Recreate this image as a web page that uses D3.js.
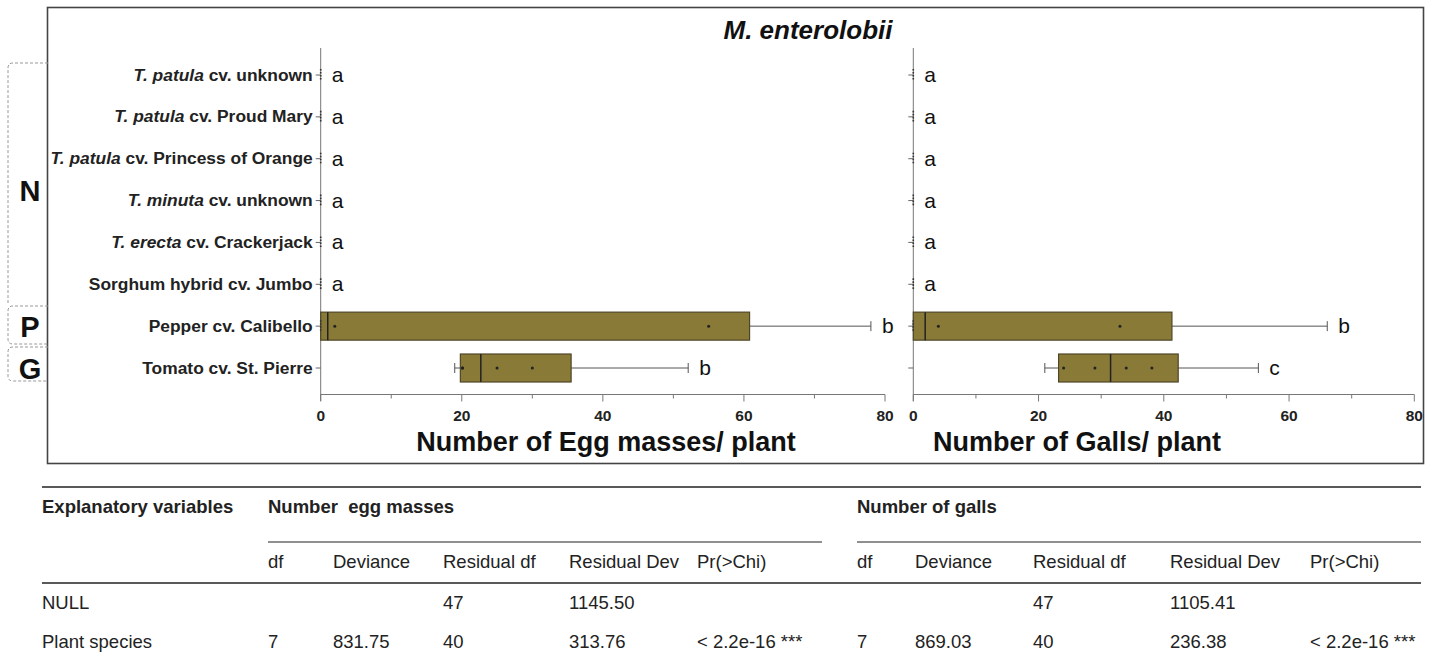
<!DOCTYPE html>
<html><head><meta charset="utf-8">
<script src="https://cdn.jsdelivr.net/npm/d3@7"></script>
<style>
body{margin:0;background:#fff;}
svg{display:block;font-family:"Liberation Sans",Arial,sans-serif;}
</style></head>
<body>
<svg id="c" width="1438" height="660"></svg>
<script>
// ---------- data ----------
const title = "M. enterolobii";
const categories = [
  "T. patula cv. unknown",
  "T. patula cv. Proud Mary",
  "T. patula cv. Princess of Orange",
  "T. minuta cv. unknown",
  "T. erecta cv. Crackerjack",
  "Sorghum hybrid cv. Jumbo",
  "Pepper cv. Calibello",
  "Tomato cv. St. Pierre"
];
const groups = ["N","N","N","N","N","N","P","G"];
// box stats: [min, q1, median, q3, max]
const eggStats = [
  [0,0,0,0,0],[0,0,0,0,0],[0,0,0,0,0],[0,0,0,0,0],[0,0,0,0,0],[0,0,0,0,0],
  [0,0,1.0,60.8,78.0],
  [19.0,19.8,22.7,35.5,52.1]
];
const eggPoints = [[0],[0],[0],[0],[0],[0],[0,2.0,55.0],[20.1,20.1,25.0,30.0]];
const eggLetters = ["a","a","a","a","a","a","b","b"];
const gallStats = [
  [0,0,0,0,0],[0,0,0,0,0],[0,0,0,0,0],[0,0,0,0,0],[0,0,0,0,0],[0,0,0,0,0],
  [0,0,1.9,41.3,66.1],
  [21.0,23.2,31.5,42.3,55.1]
];
const gallPoints = [[0],[0],[0],[0],[0],[0],[0,4.0,33.0],[24.0,29.0,34.0,38.1]];
const gallLetters = ["a","a","a","a","a","a","b","c"];
const xTicks = [0,10,20,30,40,50,60,70,80];
const xLabelTicks = [0,20,40,60,80];
const eggTitle = "Number of Egg masses/ plant";
const gallTitle = "Number of Galls/ plant";

// table
const tableVars = ["Explanatory variables"];
const tableGroupHeads = ["Number  egg masses","Number of galls"];
const tableColHeads = ["df","Deviance","Residual df","Residual Dev","Pr(>Chi)"];
const rowNames = ["NULL","Plant species"];
const eggAnova = [["","","47","1145.50",""],["7","831.75","40","313.76","< 2.2e-16 ***"]];
const gallAnova = [["","","47","1105.41",""],["7","869.03","40","236.38","< 2.2e-16 ***"]];

// ---------- drawing ----------
const svg = d3.select("#c");
const boxFill = "#8a7a38", boxStroke = "#4f4628";

svg.append("rect").attr("x",47.5).attr("y",7.5).attr("width",1376).attr("height",456)
  .attr("fill","none").attr("stroke","#444").attr("stroke-width",1.6);

svg.append("text").attr("x",808).attr("y",39).attr("text-anchor","middle")
  .attr("font-size",26).attr("font-weight","bold").attr("font-style","italic")
  .attr("fill","#111").text(title);

const y = d3.scalePoint().domain(categories).range([75,368]);
const xL = d3.scaleLinear().domain([0,80]).range([320.7,885]);
const xR = d3.scaleLinear().domain([0,80]).range([913.3,1414.3]);
const axisY = 394.5, yTop = 48;
const boxH = 28;

function zeroMark(g, x0, cy){
  g.append("line").attr("x1",x0).attr("x2",x0).attr("y1",cy-6).attr("y2",cy+6)
    .attr("stroke","#333").attr("stroke-width",1.6).attr("stroke-dasharray","1.6,1.4");
}

function panel(x, stats, points, letters, axTitle, titleX, showLabels){
  const g = svg.append("g");
  g.append("line").attr("x1",x(0)).attr("x2",x(0)).attr("y1",yTop).attr("y2",axisY+6.5)
    .attr("stroke","#777").attr("stroke-width",1);
  g.selectAll(".yt").data(categories).enter().append("line")
    .attr("x1",x(0)-5).attr("x2",x(0)).attr("y1",d=>y(d)).attr("y2",d=>y(d))
    .attr("stroke","#666");
  g.append("line").attr("x1",x(0)).attr("x2",x(80)).attr("y1",axisY).attr("y2",axisY)
    .attr("stroke","#777");
  g.selectAll(".xt").data(xTicks).enter().append("line")
    .attr("x1",d=>x(d)).attr("x2",d=>x(d)).attr("y1",axisY)
    .attr("y2",d=>axisY + (xLabelTicks.includes(d)?7:4)).attr("stroke","#777");
  g.selectAll(".xl").data(xLabelTicks).enter().append("text")
    .attr("x",d=>x(d)).attr("y",axisY+26).attr("text-anchor","middle")
    .attr("font-size",15.5).attr("font-weight","bold").attr("fill","#222").text(d=>d);
  g.append("text").attr("x",titleX).attr("y",axisY+56).attr("text-anchor","middle")
    .attr("font-size",27).attr("font-weight","bold").attr("fill","#111").text(axTitle);

  categories.forEach((c,i)=>{
    const s = stats[i], cy = y(c);
    if(s[4]===0){
      zeroMark(g, x(0), cy);
    } else {
      g.append("line").attr("x1",x(s[0])).attr("x2",x(s[1])).attr("y1",cy).attr("y2",cy).attr("stroke","#555");
      g.append("line").attr("x1",x(s[3])).attr("x2",x(s[4])).attr("y1",cy).attr("y2",cy).attr("stroke","#555");
      [s[0],s[4]].forEach(v=>g.append("line").attr("x1",x(v)).attr("x2",x(v))
        .attr("y1",cy-5).attr("y2",cy+5).attr("stroke","#555"));
      g.append("rect").attr("x",x(s[1])).attr("y",cy-boxH/2).attr("width",x(s[3])-x(s[1]))
        .attr("height",boxH).attr("fill",boxFill).attr("stroke",boxStroke).attr("stroke-width",1.2);
      g.append("line").attr("x1",x(s[2])).attr("x2",x(s[2])).attr("y1",cy-boxH/2).attr("y2",cy+boxH/2)
        .attr("stroke","#222").attr("stroke-width",1.5);
      points[i].forEach(v=>{
        if(v===0) zeroMark(g, x(0), cy);
        else g.append("circle").attr("cx",x(v)).attr("cy",cy).attr("r",1.5).attr("fill","#222");
      });
    }
    g.append("text").attr("x",x(s[4])+11).attr("y",cy+7).attr("font-size",21)
      .attr("fill","#111").text(letters[i]);
  });

  if(showLabels){
    categories.forEach(c=>{
      const t = g.append("text").attr("x",x(0)-8).attr("y",y(c)+5.5).attr("text-anchor","end")
        .attr("font-size",17.4).attr("font-weight","bold").attr("fill","#222");
      if(c.startsWith("T. ")){
        const idx = c.indexOf(" cv.");
        t.append("tspan").attr("font-style","italic").text(c.slice(0,idx));
        t.append("tspan").text(c.slice(idx));
      } else t.text(c);
    });
  }
}
panel(xL, eggStats, eggPoints, eggLetters, eggTitle, 606, true);
panel(xR, gallStats, gallPoints, gallLetters, gallTitle, 1077, false);

// group brackets
const gb = svg.append("g").attr("fill","none").attr("stroke","#999").attr("stroke-width",1)
  .attr("stroke-dasharray","3,2");
gb.append("path").attr("d","M48,63 H13 Q8,63 8,68 V303");
gb.append("path").attr("d","M48,306 H13 Q8,306 8,311 V339 Q8,344 13,344 H48");
gb.append("path").attr("d","M48,347 H13 Q8,347 8,352 V376 Q8,381 13,381 H48");
const grpLabels = [["N",190],["P",y(categories[6])],["G",y(categories[7])]];
svg.selectAll(".gl").data(grpLabels).enter().append("text")
  .attr("x",30).attr("y",d=>d[1]+10.5).attr("text-anchor","middle")
  .attr("font-size",29).attr("font-weight","bold").attr("fill","#111").text(d=>d[0]);

// ---------- table ----------
const tb = svg.append("g").attr("font-size",18.5).attr("fill","#222");
const colX = [268,333,443,569,697];
const colXR = [857,915,1033,1170,1310];
const line = (x1,x2,yy,w)=>tb.append("line").attr("x1",x1).attr("x2",x2).attr("y1",yy).attr("y2",yy)
  .attr("stroke","#222").attr("stroke-width",w);
line(42,1421,487,1.5);
line(268,822,542,1.2);
line(857,1421,542,1.2);
line(42,1421,583,1.5);
tb.append("text").attr("x",42).attr("y",513).attr("font-weight","bold").attr("font-size",18.5).text(tableVars[0]);
tb.append("text").attr("x",268).attr("y",513).attr("font-weight","bold").attr("font-size",18.5).attr("xml:space","preserve").text(tableGroupHeads[0]);
tb.append("text").attr("x",857).attr("y",513).attr("font-weight","bold").attr("font-size",18.5).text(tableGroupHeads[1]);
tableColHeads.forEach((h,i)=>{
  tb.append("text").attr("x",colX[i]).attr("y",568).text(h);
  tb.append("text").attr("x",colXR[i]).attr("y",568).text(h);
});
rowNames.forEach((r,ri)=>{
  const yy = [609,648][ri];
  tb.append("text").attr("x",42).attr("y",yy).text(r);
  eggAnova[ri].forEach((v,i)=>tb.append("text").attr("x",colX[i]).attr("y",yy).text(v));
  gallAnova[ri].forEach((v,i)=>tb.append("text").attr("x",colXR[i]).attr("y",yy).text(v));
});
</script>
</body></html>
